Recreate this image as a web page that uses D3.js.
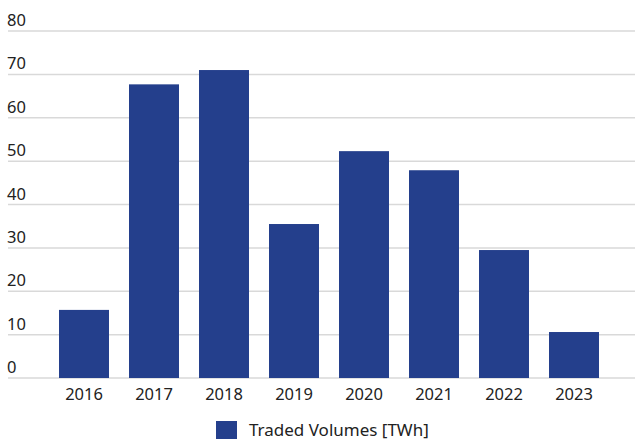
<!DOCTYPE html>
<html>
<head>
<meta charset="utf-8">
<script src="https://cdn.jsdelivr.net/npm/d3@7"></script>
<style>
  body { margin: 0; background: #fff; }
  text { font-family: "Noto Sans", "Open Sans", sans-serif; fill: #222; }
</style>
</head>
<body>
<div id="chart"></div>
<script>
const years = ["2016", "2017", "2018", "2019", "2020", "2021", "2022", "2023"];
const volumes = [15.7, 67.7, 71.0, 35.5, 52.3, 47.9, 29.5, 10.6];
const yTicks = [0, 10, 20, 30, 40, 50, 60, 70, 80];
const seriesName = "Traded Volumes [TWh]";

const width = 635, height = 440;
const barColor = "#243f8c";

let svg = d3.select("#chart")
    .append("svg")
        .attr("width", width)
        .attr("height", height);

let x = d3.scaleBand()
    .domain(years)
    .range([49, 609])
    .paddingInner(20 / 70)
    .paddingOuter(1 / 7);

let y = d3.scaleLinear()
    .domain([0, 80])
    .range([378, 31]);

// gridlines + labels sitting above each line
let grid = svg.append("g");
grid.selectAll("line")
    .data(yTicks)
    .enter().append("line")
    .attr("x1", 8)
    .attr("x2", width)
    .attr("y1", d => y(d))
    .attr("y2", d => y(d))
    .attr("stroke", "#d9d9d9")
    .attr("stroke-width", 1.5);

grid.selectAll("text")
    .data(yTicks)
    .enter().append("text")
    .attr("x", 7)
    .attr("y", d => y(d) - 5)
    .style("font-size", "16.5px")
    .text(d => d);

svg.selectAll(".bar")
    .data(years)
    .enter().append("rect")
    .attr("class", "bar")
    .attr("x", d => x(d))
    .attr("width", x.bandwidth())
    .attr("y", (d, i) => y(volumes[i]))
    .attr("height", (d, i) => y(0) - y(volumes[i]))
    .attr("fill", barColor);

// x axis labels
let xAxis = d3.axisBottom(x).tickSize(0).tickPadding(10);
svg.append("g")
    .attr("transform", "translate(0," + y(0) + ")")
    .call(xAxis)
    .call(g => g.select(".domain").remove())
    .selectAll("text")
        .style("font-size", "16.5px")
        .style("font-family", "\"Noto Sans\", sans-serif")
        .attr("fill", "#222");

// legend
let legend = svg.append("g").attr("transform", "translate(216,421)");
legend.append("rect")
    .attr("width", 21)
    .attr("height", 18)
    .attr("fill", barColor);
legend.append("text")
    .attr("x", 33)
    .attr("y", 15)
    .style("font-size", "17px")
    .text(seriesName);
</script>
</body>
</html>
